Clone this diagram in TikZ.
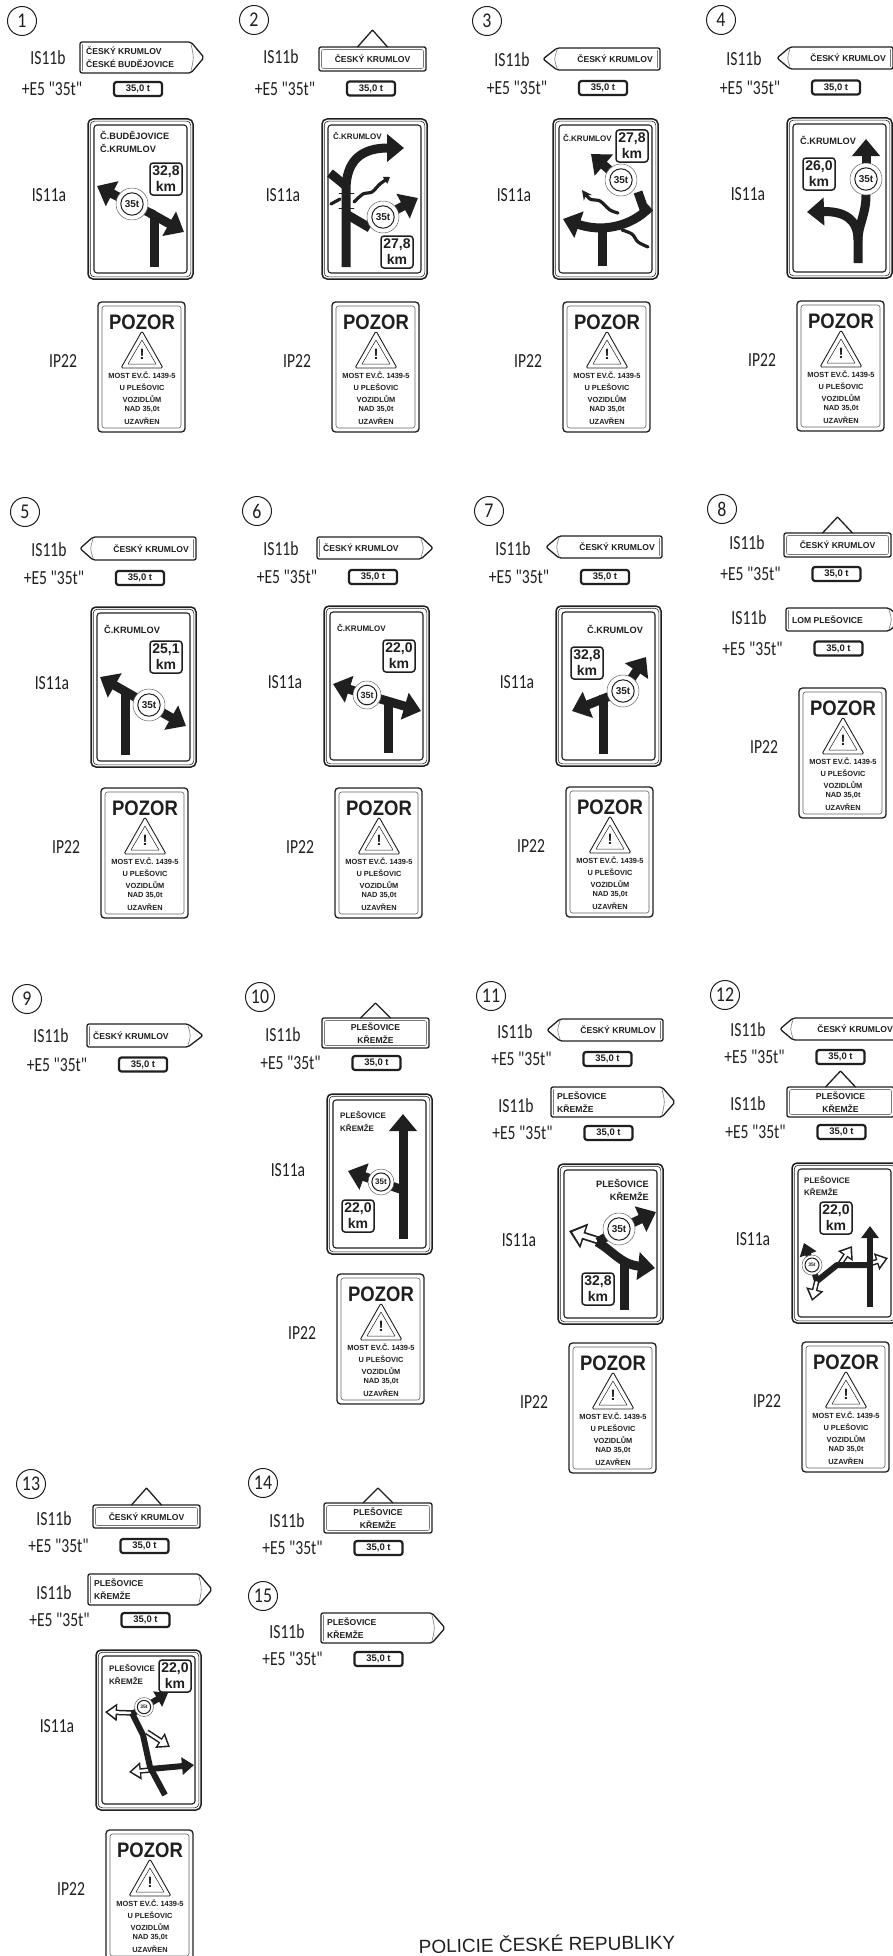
\documentclass[tikz,border=0pt]{standalone}
\usepackage{fontspec}
\setmainfont{Liberation Sans}
\newfontfamily\labelfont{Carlito}
\usetikzlibrary{arrows.meta}
\definecolor{ink}{gray}{0.12}
\tikzset{
	signline/.style={draw=ink,line width=1.3pt,rounded corners=2pt},
	signthin/.style={draw=ink!60,line width=0.6pt,rounded corners=2pt},
	labeltext/.style={font=\labelfont\fontsize{20}{20}\selectfont,text=ink,inner sep=0pt},
	signtext/.style={font=\bfseries\fontsize{8.6}{13}\selectfont,text=ink,inner sep=0pt},
	bigtext/.style={font=\bfseries\fontsize{9.2}{13}\selectfont,text=ink,inner sep=0pt},
	smalltext/.style={font=\bfseries\fontsize{8}{12.5}\selectfont,text=ink,inner sep=0pt},
	warntext/.style={font=\bfseries\fontsize{7.4}{8}\selectfont,text=ink,inner sep=0pt},
	numcirc/.style={draw=ink,circle,line width=1pt,minimum size=29pt,inner sep=0pt,font=\labelfont\fontsize{21}{21}\selectfont,text=ink},
	plate/.style={draw=ink,line width=2.2pt,rounded corners=2.5pt,minimum width=48pt,minimum height=14pt,inner sep=0pt,font=\bfseries\fontsize{9.5}{10}\selectfont,text=ink},
	kmnode/.style={draw=ink,fill=white,line width=1.5pt,rounded corners=3pt,minimum size=32pt,inner sep=0pt,align=center,font=\bfseries\fontsize{14}{16}\selectfont,text=ink},
	road/.style={draw=ink,line width=9pt,line cap=butt,-{Triangle[length=17pt,width=27pt]}},
	roadstem/.style={draw=ink,line width=9pt,line cap=butt},
	lane/.style={draw=ink,line width=6pt,line cap=butt,-{Triangle[length=12pt,width=17pt]}},
	lanestem/.style={draw=ink,line width=6pt,line cap=butt},
	wiggle/.style={draw=ink,line width=3.2pt,line cap=round},
	wigglearrow/.style={wiggle,-{Triangle[length=6pt,width=8pt]}},
	hollowout/.style={draw=ink,line width=5.5pt,line cap=butt,-{Triangle[length=12pt,width=17pt]}},
	hollowin/.style={draw=white,line width=2.5pt,line cap=butt,shorten >=2.6pt,-{Triangle[length=8pt,width=11pt]}},
	bighollowout/.style={draw=ink,line width=8pt,line cap=butt,-{Triangle[length=16pt,width=25pt]}},
	bighollowin/.style={draw=white,line width=4.5pt,line cap=butt,shorten >=3.4pt,-{Triangle[length=11pt,width=18pt]}}
}
\newcommand{\signlabel}[4]{\node[labeltext] (#1) at (#2,#3) {\scalebox{0.78}[1]{#4}};}
\newcommand{\numbered}[4]{\node[numcirc] (#1) at (#2,#3) {\scalebox{0.85}[1]{#4}};}
\newcommand{\signE}[3]{
	\node[plate] (#1) at (#2,#3) {35,0 t};
	\node[labeltext] (#1-lab) at (#2-86,#3) {\scalebox{0.78}[1]{+E5 "35t"}};
}
\newcommand{\signR}[7]{
	\begin{scope}[shift={(#2,#3)}]
	\draw[signline] (0,0)--(#4,0)--({#4+#6},{#5/2})--(#4,#5)--(0,#5)--cycle;
	\draw[signthin] (2.5,2.5)--(2.5,{#5-2.5});
	\draw[signthin] (#4,2) .. controls ({#4+3},{#5/2}) .. (#4,{#5-2});
	\node[signtext,anchor=west,align=left] (#1) at (6,{#5/2}) {#7};
	\end{scope}
}
\newcommand{\signL}[7]{
	\begin{scope}[shift={(#2,#3)}]
	\draw[signline] (0,{#5/2})--(#6,0)--({#6+#4},0)--({#6+#4},#5)--(#6,#5)--cycle;
	\draw[signthin] ({#6+#4-2.5},2.5)--({#6+#4-2.5},{#5-2.5});
	\draw[signthin] (#6,2) .. controls ({#6-3},{#5/2}) .. (#6,{#5-2});
	\node[signtext,anchor=east,align=right] (#1) at ({#6+#4-7},{#5/2}) {#7};
	\end{scope}
}
\newcommand{\signU}[7]{
	\begin{scope}[shift={(#2,#3)}]
	\draw[signline] (0,0) rectangle (#4,#5);
	\draw[signthin] (2.5,2.5) rectangle ({#4-2.5},{#5-2.5});
	\draw[signline,rounded corners=0.5pt] ({#4/2-15},0)--({#4/2},{-#6})--({#4/2+15},0);
	\node[signtext,align=center] (#1) at ({#4/2},{#5/2}) {#7};
	\end{scope}
}
\newcommand{\signA}[3]{
	\begin{scope}[shift={(#2,#3)}]
	\draw[draw=ink,line width=1.5pt,rounded corners=5pt] (0,0) rectangle (105,160);
	\draw[draw=ink,line width=0.6pt,rounded corners=4pt] (2.2,2.2) rectangle (102.8,157.8);
	\draw[draw=ink,line width=1.1pt,rounded corners=3pt] (6,6) rectangle (99,154);
	\node[labeltext] (#1) at (-39,76) {\scalebox{0.78}[1]{IS11a}};
	\end{scope}
}
\newcommand{\signC}[3]{
	\begin{scope}[shift={(#2,#3)}]
	\draw[draw=ink,line width=1.3pt,rounded corners=3.5pt] (0,0) rectangle (87,130);
	\draw[draw=ink!70,line width=0.6pt,rounded corners=2.5pt] (4,4) rectangle (83,126);
	\node[labeltext] (#1) at (-35,59) {\scalebox{0.78}[1]{IP22}};
	\node[inner sep=0pt,text=ink,font=\bfseries\fontsize{21}{21}\selectfont] (#1-head) at (44,20) {\scalebox{0.88}[1]{POZOR}};
	\draw[draw=ink,line width=0.9pt,rounded corners=1.5pt] (44,29)--(65,66)--(23,66)--cycle;
	\draw[draw=ink,line width=0.5pt] (44,38)--(58,62)--(30,62)--cycle;
	\node[inner sep=0pt,text=ink,font=\bfseries\fontsize{15}{15}\selectfont] (#1-mark) at (44,52) {!};
	\node[warntext] (#1-a) at (44,73) {MOST EV.Č. 1439-5};
	\node[warntext] (#1-b) at (44,85) {U PLEŠOVIC};
	\node[warntext] (#1-c) at (44,97) {VOZIDLŮM};
	\node[warntext] (#1-d) at (44,107) {NAD 35,0t};
	\node[warntext] (#1-e) at (44,119) {UZAVŘEN};
	\end{scope}
}
\newcommand{\kmbox}[4]{\node[kmnode] (#1) at (#2,#3) {#4\\km};}
\newcommand{\ringsign}[5]{
	\fill[white] (#2,#3) circle [radius=#4 pt];
	\draw[draw=ink!70,line width=0.5pt] (#2,#3) circle [radius=#4 pt];
	\draw[draw=ink,line width=1pt] (#2,#3) circle [radius=0.7*#4 pt];
	\node[inner sep=0pt,text=ink,font=\bfseries\fontsize{#5}{#5}\selectfont] (#1) at (#2,#3) {35t};
}
\newcommand{\hollowarrow}[2]{
	\draw[#1hollowout] #2;
	\draw[#1hollowin] #2;
}
\begin{document}
\begin{tikzpicture}[x=1pt,y=-1pt,line join=round,line cap=round,>=stealth]
		\useasboundingbox (0,0) rectangle (893,1956);
		\clip (0,0) rectangle (893,1956);

		\numbered{n1}{22}{21}{1}
		\signlabel{b1}{48}{58}{IS11b}
		\signR{s1}{80}{42}{111}{31}{13}{ČESKÝ KRUMLOV\\ČESKÉ BUDĚJOVICE}
		\signE{e1}{138}{89}
		\signA{a1}{88}{119}
		\node[bigtext,anchor=west,align=left] (t1) at (100,141.5) {Č.BUDĚJOVICE\\Č.KRUMLOV};
		\draw[roadstem] (154,267)--(154,214);
		\draw[road] (154,215)--(97,186);
		\draw[road] (150,213)--(184,232);
		\ringsign{r1}{132}{204}{16}{10}
		\kmbox{k1}{166}{179}{32,8}
		\signC{c1}{98}{302}

		\numbered{n2}{254}{20}{2}
		\signlabel{b2}{281}{57}{IS11b}
		\signU{s2}{319}{47}{107}{24}{17}{ČESKÝ KRUMLOV}
		\signE{e2}{371}{88.5}
		\signA{a2}{322}{119}
		\node[smalltext,anchor=west] (t2) at (333,136) {Č.KRUMLOV};
		\draw[road] (346,267)--(346,190) .. controls (346,160) and (362,148) .. (404,148);
		\draw[roadstem] (346,186)--(330,173);
		\draw[roadstem] (346,214)--(370,228);
		\draw[wiggle] (331,204)--(340,199);
		\draw[wigglearrow] plot[smooth] coordinates {(354,202) (363,194) (372,192) (380,184) (390,177)};
		\draw[draw=ink,line width=0.7pt] (339,193)--(354,193) (339,208)--(354,208);
		\draw[road] (383,217)--(418,198);
		\ringsign{r2}{383}{217}{16}{10}
		\kmbox{k2}{397}{252}{27,8}
		\signC{c2}{332}{302}

		\numbered{n3}{487}{21}{3}
		\signlabel{b3}{512}{60}{IS11b}
		\signL{s3}{543}{48}{103}{22}{14}{ČESKÝ KRUMLOV}
		\signE{e3}{603}{88}
		\signA{a3}{553}{119}
		\node[smalltext,anchor=west] (t3) at (563,138) {Č.KRUMLOV};
		\draw[road] (621,180)--(591,154);
		\draw[wigglearrow,<-] plot[smooth] coordinates {(582,190) (590,199) (600,201) (610,210) (618,213)};
		\draw[wiggle] plot[smooth] coordinates {(622,230) (632,234) (638,242) (648,247)};
		\draw[road] (650,207) .. controls (630,228) and (600,232) .. (563,219);
		\draw[roadstem] (602,266)--(602,228);
		\draw[roadstem] (638,192)--(645,212);
		\ringsign{r3}{621}{180}{16}{10}
		\kmbox{k3}{632}{146}{27,8}
		\signC{c3}{563}{302}

		\numbered{n4}{721}{20}{4}
		\signlabel{b4}{744}{59}{IS11b}
		\signL{s4}{777}{47}{103}{22}{13}{ČESKÝ KRUMLOV}
		\signE{e4}{836}{87.5}
		\signA{a4}{787}{118}
		\node[bigtext,anchor=west] (t4) at (800,140) {Č.KRUMLOV};
		\draw[road] (858,263)--(858,240) .. controls (858,220) and (845,211) .. (807,212);
		\draw[roadstem] (858,240) .. controls (858,225) and (866,215) .. (866,195);
		\draw[road] (866,180)--(866,139);
		\ringsign{r4}{866}{179}{16}{10}
		\kmbox{k4}{819}{174}{26,0}
		\signC{c4}{797}{301}

		\numbered{n5}{25}{512}{5}
		\signlabel{b5}{49}{550}{IS11b}
		\signL{s5}{80}{537}{103}{23}{13}{ČESKÝ KRUMLOV}
		\signE{e5}{140}{578}
		\signA{a5}{91}{607}
		\node[bigtext,anchor=west] (t5) at (104,629) {Č.KRUMLOV};
		\draw[roadstem] (125,755)--(125,690);
		\draw[road] (149,705)--(100,677);
		\draw[road] (149,705)--(186,726);
		\ringsign{r5}{149}{705}{16}{10}
		\kmbox{k5}{166}{657}{25,1}
		\signC{c5}{101}{788}

		\numbered{n6}{257}{511}{6}
		\signlabel{b6}{281}{549}{IS11b}
		\signR{s6}{317}{537}{104}{22}{12}{ČESKÝ KRUMLOV}
		\signE{e6}{373}{577}
		\signA{a6}{324}{606}
		\node[smalltext,anchor=west] (t6) at (337,628) {Č.KRUMLOV};
		\draw[roadstem] (388,753)--(388,698);
		\draw[road] (367,695)--(333,684);
		\draw[road] (367,695)--(421,711);
		\ringsign{r6}{367}{695}{14}{9}
		\kmbox{k6}{399}{656}{22,0}
		\signC{c6}{335}{788}

		\numbered{n7}{489}{511}{7}
		\signlabel{b7}{513}{549}{IS11b}
		\signL{s7}{546}{536}{103}{22}{13}{ČESKÝ KRUMLOV}
		\signE{e7}{605}{577}
		\signA{a7}{556}{606}
		\node[bigtext,anchor=west] (t7) at (587,629) {Č.KRUMLOV};
		\draw[roadstem] (603,754)--(603,695);
		\draw[road] (623,691)--(572,711);
		\draw[road] (623,691)--(646,657);
		\ringsign{r7}{623}{691}{16}{10}
		\kmbox{k7}{587}{663}{32,8}
		\signC{c7}{566}{787}

		\numbered{n8}{722}{509}{8}
		\signlabel{b8}{747}{543}{IS11b}
		\signU{s8}{784}{533}{107}{24}{16}{ČESKÝ KRUMLOV}
		\signE{e8}{836.5}{574}
		\signlabel{b8x}{749}{618}{IS11b}
		\signR{s8x}{786}{608}{103}{23}{13}{LOM PLEŠOVICE}
		\signE{e8x}{838.5}{648.5}
		\signC{c8}{799}{688}

		\numbered{n9}{27}{999}{9}
		\signlabel{b9}{51}{1036}{IS11b}
		\signR{s9}{87}{1024}{101}{23}{15}{ČESKÝ KRUMLOV}
		\signE{e9}{143}{1064.5}

		\numbered{n10}{260}{997}{10}
		\signlabel{b10}{283}{1035}{IS11b}
		\signU{s10}{322}{1018}{107}{30}{15}{PLEŠOVICE\\KŘEMŽE}
		\signE{e10}{376.5}{1063}
		\signA{a10}{327}{1094}
		\node[smalltext,anchor=west,align=left] (t10) at (340,1121.5) {PLEŠOVICE\\KŘEMŽE};
		\draw[road] (403,1239)--(403,1114);
		\draw[road] (403,1190)--(348,1171);
		\ringsign{r10}{381}{1182}{13}{8}
		\kmbox{k10}{358}{1216}{22,0}
		\signC{c10}{337}{1274}

		\numbered{n11}{491}{996}{11}
		\signlabel{b11}{515}{1032}{IS11b}
		\signL{s11}{547}{1019}{103}{22}{13}{ČESKÝ KRUMLOV}
		\signE{e11}{607.5}{1059}
		\signlabel{b11x}{516}{1106}{IS11b}
		\signR{s11x}{551}{1087}{111}{30}{13}{PLEŠOVICE\\KŘEMŽE}
		\signE{e11x}{608.5}{1133}
		\signA{a11}{558}{1164}
		\node[bigtext,anchor=east,align=right] (t11) at (649,1189.5) {PLEŠOVICE\\KŘEMŽE};
		\hollowarrow{big}{(600,1241)--(569,1231)}
		\draw[road] (597,1242) .. controls (612,1250) and (620,1264) .. (655,1268);
		\draw[roadstem] (624,1310)--(624,1260);
		\draw[roadstem] (619,1229)--(598,1242);
		\draw[road] (619,1229)--(656,1212);
		\ringsign{r11}{619}{1229}{16}{10}
		\kmbox{k11}{598}{1289}{32,8}
		\signC{c11}{569}{1343}

		\numbered{n12}{725}{995}{12}
		\signlabel{b12}{748}{1030}{IS11b}
		\signL{s12}{780}{1018}{107}{22}{13}{ČESKÝ KRUMLOV}
		\signE{e12}{840.5}{1057}
		\signlabel{b12x}{748}{1104}{IS11b}
		\signU{s12x}{787}{1087}{107}{30}{16}{PLEŠOVICE\\KŘEMŽE}
		\signE{e12x}{841.5}{1132}
		\signA{a12}{792}{1163}
		\node[smalltext,anchor=west,align=left] (t12) at (804,1186) {PLEŠOVICE\\KŘEMŽE};
		\hollowarrow{}{(840,1264)--(852,1246)}
		\hollowarrow{}{(866,1265)--(888,1258)}
		\hollowarrow{}{(817,1280)--(812,1301)}
		\draw[lanestem] (870,1265)--(837,1265)--(817,1281);
		\draw[lane] (870,1307)--(870,1226);
		\draw[lanestem] (812,1265)--(817,1281);
		\draw[lane] (812,1265)--(804,1243);
		\ringsign{r12}{812}{1265}{10}{5}
		\kmbox{k12}{836}{1218}{22,0}
		\signC{c12}{802}{1342}

		\numbered{n13}{31}{1484}{13}
		\signlabel{b13}{54}{1519}{IS11b}
		\signU{s13}{93}{1505}{107}{23}{17}{ČESKÝ KRUMLOV}
		\signE{e13}{144.5}{1546}
		\signlabel{b13x}{54}{1593}{IS11b}
		\signR{s13x}{88}{1574}{111}{31}{13}{PLEŠOVICE\\KŘEMŽE}
		\signE{e13x}{145.5}{1620}
		\signA{a13}{96}{1650}
		\node[smalltext,anchor=west,align=left] (t13) at (109,1674.5) {PLEŠOVICE\\KŘEMŽE};
		\hollowarrow{}{(134,1713)--(105,1712)}
		\hollowarrow{}{(147,1732)--(170,1747)}
		\hollowarrow{}{(150,1770)--(129,1772)}
		\draw[lanestem] (132,1713)--(143,1735)--(150,1767)--(165,1795);
		\draw[lane] (150,1769)--(194,1765);
		\draw[lanestem] (132,1714)--(144,1707);
		\draw[lane] (144,1707)--(168,1693);
		\ringsign{r13}{144}{1707}{9.5}{5}
		\kmbox{k13}{175}{1676}{22,0}
		\signC{c13}{106}{1830}

		\numbered{n14}{263}{1483}{14}
		\signlabel{b14}{287}{1521}{IS11b}
		\signU{s14}{324}{1503}{108}{30}{15}{PLEŠOVICE\\KŘEMŽE}
		\signE{e14}{378.5}{1548}

		\numbered{n15}{263}{1596}{15}
		\signlabel{b15}{287}{1632}{IS11b}
		\signR{s15}{321}{1613}{111}{30}{13}{PLEŠOVICE\\KŘEMŽE}
		\signE{e15}{378.5}{1659}

		\node[inner sep=0pt,text=ink,rotate=1,font=\fontsize{19}{19}\selectfont] (footer) at (547,1943) {POLICIE ČESKÉ REPUBLIKY};
		\end{tikzpicture}
\end{document}
